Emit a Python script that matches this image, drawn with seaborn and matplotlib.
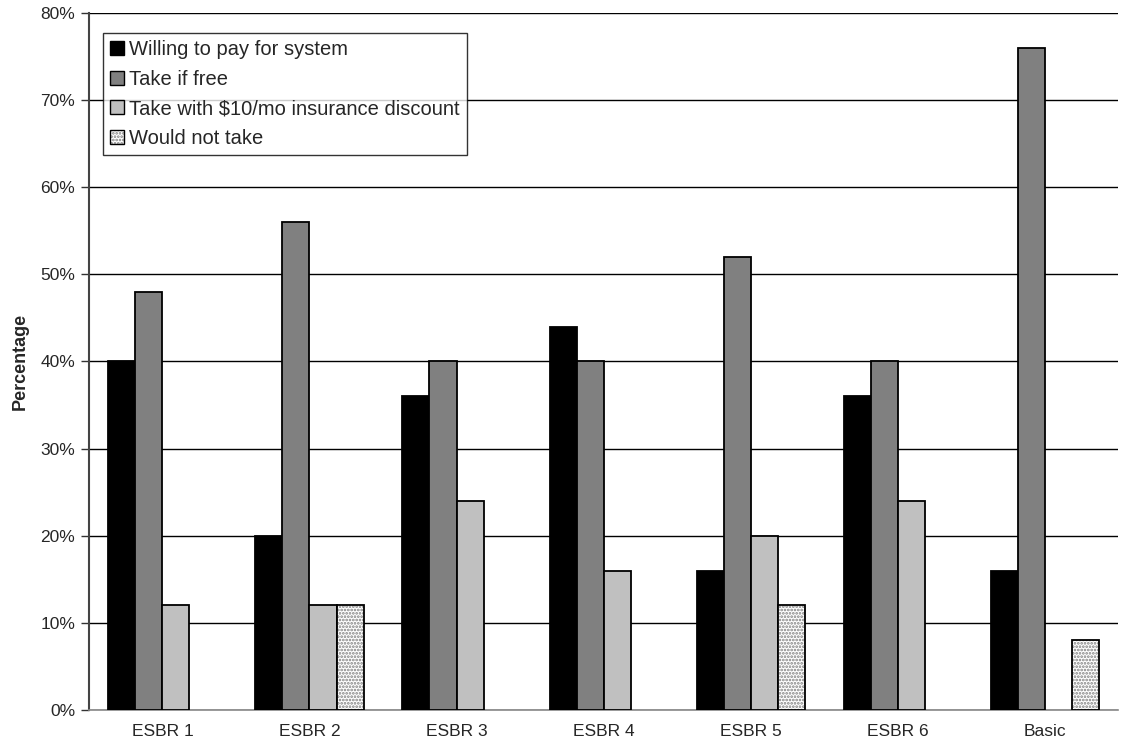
import matplotlib
matplotlib.use("Agg")
import matplotlib.pyplot as plt
import matplotlib.colors as mcolors
import seaborn as sns
import pandas as pd
import numpy as np

categories = ["ESBR 1", "ESBR 2", "ESBR 3", "ESBR 4", "ESBR 5", "ESBR 6", "Basic"]
series_names = ["Willing to pay for system", "Take if free",
                "Take with $10/mo insurance discount", "Would not take"]
willing_to_pay = [40, 20, 36, 44, 16, 36, 16]
take_if_free = [48, 56, 40, 40, 52, 40, 76]
take_with_discount = [12, 12, 24, 16, 20, 24, 0]
would_not_take = [0, 12, 0, 0, 12, 0, 8]
y_ticks = [0, 10, 20, 30, 40, 50, 60, 70, 80]

series_values = [willing_to_pay, take_if_free, take_with_discount, would_not_take]
rows = []
for name, vals in zip(series_names, series_values):
    for c, v in zip(categories, vals):
        # zero-height bars are not drawn (as in the original chart)
        rows.append({"Category": c, "Series": name, "Value": v if v != 0 else np.nan})
df = pd.DataFrame(rows)

sns.set_style("white")
plt.rcParams['font.family'] = ['Liberation Sans', 'DejaVu Sans']
plt.rcParams['hatch.linewidth'] = 1.3

colors = ["#000000", "#808080", "#c0c0c0", "#ffffff"]
hatch_grey = mcolors.to_rgba("#808080")

fig = plt.figure(figsize=(11.26, 7.46), dpi=100)
ax = fig.add_axes([0.079, 0.0483, 0.914, 0.9343])

sns.barplot(data=df, x="Category", y="Value", hue="Series", order=categories,
            hue_order=series_names, palette=colors, width=0.735, gap=0,
            edgecolor="black", linewidth=1.3, saturation=1, ax=ax, zorder=3)

n = len(categories)
for i, cont in enumerate(ax.containers):
    if i == 3:
        for p in cont.patches:
            p.set_hatch(".....")
            p._hatch_color = hatch_grey

ax.set_ylim(0, 80)
ax.set_xlim(-0.5, n - 0.5)
ax.set_yticks(y_ticks)
ax.set_yticklabels([f"{t}%" for t in y_ticks], fontsize=12.5)
ax.set_xticks(np.arange(n))
ax.set_xticklabels(categories, fontsize=12.5)
ax.tick_params(axis="x", length=0, pad=10)
ax.set_xticks(np.arange(n + 1) - 0.5, minor=True)
ax.tick_params(axis="x", which="minor", length=6, width=1, color="#333333", direction="out")
ax.tick_params(axis="y", length=6, width=1, color="#333333", direction="out", pad=4, left=True)
ax.yaxis.grid(True, color="black", linewidth=1, zorder=0)
ax.set_axisbelow(True)
for s in ["top", "right"]:
    ax.spines[s].set_visible(False)
ax.spines["left"].set_color("#444444")
ax.spines["left"].set_linewidth(1.5)
ax.spines["bottom"].set_color("#888888")
ax.spines["bottom"].set_linewidth(1.2)
ax.set_xlabel("")
ax.set_ylabel("Percentage", fontsize=13, fontweight="bold", labelpad=8)

handles, labels = ax.get_legend_handles_labels()
leg = ax.legend(handles, labels, loc="upper left", bbox_to_anchor=(0.0136, 0.971),
                fontsize=14.5, frameon=True, fancybox=False, edgecolor="black",
                handlelength=0.7, handleheight=0.7, handletextpad=0.25,
                labelspacing=0.52, borderpad=0.35, borderaxespad=0)
leg.get_frame().set_linewidth(1.0)
leg.set_zorder(5)
for i, h in enumerate(leg.legend_handles):
    h.set_linewidth(1.0)
    if i == 3:
        h.set_hatch(".....")
        h._hatch_color = hatch_grey

fig.savefig("out.png", dpi=100)
